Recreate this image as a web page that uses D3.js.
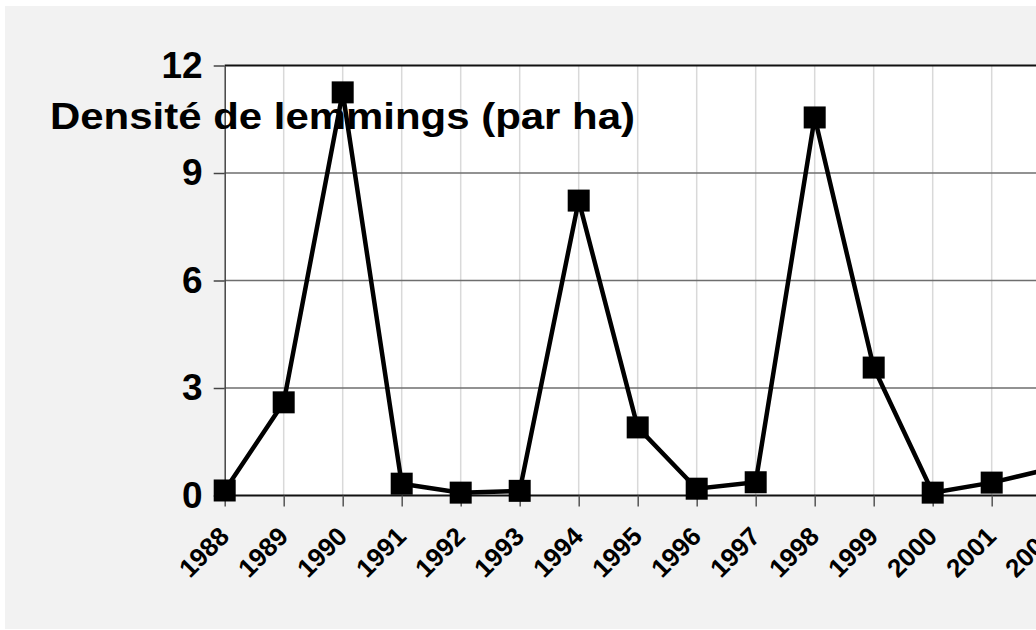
<!DOCTYPE html>
<html>
<head>
<meta charset="utf-8">
<script src="https://cdn.jsdelivr.net/npm/d3@7"></script>
<style>
  body { margin: 0; background: #fff; }
  svg { display: block; font-family: "Liberation Sans", Arial, sans-serif; }
</style>
</head>
<body>
<svg id="chart" width="1036" height="630"></svg>
<script>
const years = [1988, 1989, 1990, 1991, 1992, 1993, 1994, 1995, 1996, 1997, 1998, 1999, 2000, 2001, 2002]
const density = [0.14, 2.6, 11.25, 0.33, 0.08, 0.13, 8.23, 1.9, 0.19, 0.37, 10.55, 3.57, 0.08, 0.36, 0.75]
const yTicks = [0, 3, 6, 9, 12]
const titleText = 'Densité de lemmings (par ha)'

const svg = d3.select('#chart')

// x: one year every 59px, the right part of the plot runs off the picture
const x = d3.scaleLinear().domain([1988, 2001]).range([224.7, 991.7])
const y = d3.scaleLinear().domain([0, 12]).range([495.5, 65.5])
const plotRight = x(2004)

// grey chart area
svg.append('rect')
  .attr('x', 5).attr('y', 6)
  .attr('width', 1100).attr('height', 623)
  .attr('fill', '#f2f2f2')

// white plot area
svg.append('rect')
  .attr('x', x(1988)).attr('y', y(12))
  .attr('width', plotRight - x(1988)).attr('height', y(0) - y(12))
  .attr('fill', '#fff')

// vertical gridlines
svg.append('g')
  .selectAll('line')
  .data(d3.range(1989, 2004))
  .enter()
  .append('line')
  .attr('x1', d => x(d)).attr('x2', d => x(d))
  .attr('y1', y(12)).attr('y2', y(0))
  .attr('stroke', '#d9d9d9')
  .attr('stroke-width', 1.5)

// horizontal gridlines
svg.append('g')
  .selectAll('line')
  .data(yTicks.filter(d => d > 0))
  .enter()
  .append('line')
  .attr('x1', x(1988)).attr('x2', plotRight)
  .attr('y1', d => y(d)).attr('y2', d => y(d))
  .attr('stroke', d => d === 12 ? '#111' : '#6e6e6e')
  .attr('stroke-width', d => d === 12 ? 2 : 1.5)

// y axis
const yAxis = svg.append('g')
  .attr('transform', `translate(${x(1988)},0)`)
  .call(d3.axisLeft(y).tickValues(yTicks).tickSize(11).tickPadding(11).tickSizeOuter(0))
yAxis.select('.domain').attr('stroke', '#444').attr('stroke-width', 1.5)
yAxis.selectAll('.tick line').attr('stroke', '#444').attr('stroke-width', 1.5)
yAxis.selectAll('text')
  .attr('font-size', 37).attr('font-weight', 'bold').attr('fill', '#000')
  .attr('font-family', '"Liberation Sans", Arial, sans-serif')

// x axis
const xAxis = svg.append('g')
  .attr('transform', `translate(0,${y(0)})`)
  .call(d3.axisBottom(x).tickValues(years).tickFormat(d3.format('d')).tickSize(11).tickSizeOuter(0))
xAxis.select('.domain').attr('stroke', '#111').attr('stroke-width', 2)
  .attr('d', `M${x(1988)},0H${plotRight}`)
xAxis.selectAll('.tick line').attr('stroke', '#555').attr('stroke-width', 1.5)
xAxis.selectAll('text')
  .attr('font-size', 26).attr('font-weight', 'bold').attr('fill', '#000')
  .attr('font-family', '"Liberation Sans", Arial, sans-serif')
  .attr('text-anchor', 'end')
  .attr('y', 0).attr('dy', 0)
  .attr('transform', 'translate(5.6,42.5) rotate(-45)')

// series
const points = years.map((yr, i) => ({ year: yr, value: density[i] }))

svg.append('path')
  .datum(points)
  .attr('fill', 'none')
  .attr('stroke', '#000')
  .attr('stroke-width', 4.5)
  .attr('stroke-linejoin', 'miter')
  .attr('d', d3.line().x(d => x(d.year)).y(d => y(d.value)))

svg.append('g')
  .selectAll('rect')
  .data(points)
  .enter()
  .append('rect')
  .attr('x', d => x(d.year) - 11)
  .attr('y', d => y(d.value) - 11)
  .attr('width', 22).attr('height', 22)
  .attr('fill', '#000')

// axis title, written across the plot
svg.append('text')
  .attr('x', 50).attr('y', 128.5)
  .attr('font-size', 37).attr('font-weight', 'bold')
  .attr('textLength', 585).attr('lengthAdjust', 'spacingAndGlyphs')
  .attr('fill', '#000')
  .text(titleText)
</script>
</body>
</html>
